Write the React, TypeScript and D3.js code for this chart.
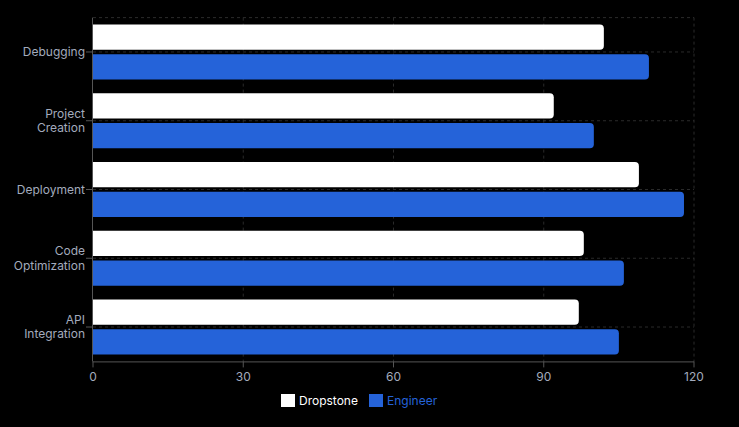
import React from "react";
import * as d3 from "d3";

const categories = ["Debugging", "Project Creation", "Deployment", "Code Optimization", "API Integration"];
const categoryLines = [["Debugging"], ["Project", "Creation"], ["Deployment"], ["Code", "Optimization"], ["API", "Integration"]];
const dropstoneValues = [102, 92, 109, 98, 97];
const engineerValues = [111, 100, 118, 106, 105];
const xTicks = [0, 30, 60, 90, 120];
const seriesNames = ["Dropstone", "Engineer"];
const seriesColors = ["#ffffff", "#2563d9"];

const W = 739, H = 427;
const M = { left: 93, right: 45, top: 17.6, bottom: 65.6 };

function barPath(x0: number, y: number, w: number, h: number, r: number) {
  const rr = Math.min(r, w / 2, h / 2);
  return `M${x0},${y}H${x0 + w - rr}Q${x0 + w},${y} ${x0 + w},${y + rr}V${y + h - rr}Q${x0 + w},${y + h} ${x0 + w - rr},${y + h}H${x0}Z`;
}

export default function App() {
  const x = d3.scaleLinear().domain([0, 120]).range([M.left, W - M.right]);
  const y = d3.scaleBand<string>().domain(categories).range([M.top, H - M.bottom]).paddingInner(0).paddingOuter(0);
  const bw = y.bandwidth();
  const pad = bw * 0.1;
  const gap = 4.5;
  const barH = (bw - 2 * pad - gap) / 2;
  const series = [dropstoneValues, engineerValues];
  const font = "Inter, 'Noto Sans', sans-serif";
  const axisColor = "#555";
  const tickText = "#a3abbd";
  return (
    <svg width={W} height={H} style={{ position: "absolute", left: 0, top: 0, background: "#000" }}>
      <rect x={0} y={0} width={W} height={H} fill="#000" />
      {/* grid */}
      <g stroke="#2a2a2a" strokeDasharray="3 3" strokeWidth={1}>
        <line x1={M.left} x2={x(120)} y1={M.top} y2={M.top} />
        {categories.map((c) => (
          <line key={c} x1={M.left} x2={x(120)} y1={y(c)! + bw / 2} y2={y(c)! + bw / 2} />
        ))}
        {xTicks.slice(1).map((t) => (
          <line key={t} x1={x(t)} x2={x(t)} y1={M.top} y2={H - M.bottom} />
        ))}
      </g>
      {/* bars */}
      {categories.map((c, i) => (
        <g key={c}>
          {series.map((vals, s) => (
            <path
              key={s}
              d={barPath(x(0), y(c)! + pad + s * (barH + gap), x(vals[i]) - x(0), barH, 4)}
              fill={seriesColors[s]}
            />
          ))}
        </g>
      ))}
      {/* y axis */}
      <line x1={M.left - 0.5} x2={M.left - 0.5} y1={M.top} y2={H - M.bottom} stroke={axisColor} />
      {categories.map((c, i) => {
        const cy = y(c)! + bw / 2;
        const lines = categoryLines[i];
        const lh = 14.5;
        const start = cy - ((lines.length - 1) * lh) / 2;
        return (
          <g key={c}>
            <line x1={M.left - 7} x2={M.left - 0.5} y1={cy} y2={cy} stroke={axisColor} />
            {lines.map((l, k) => (
              <text key={k} x={M.left - 8} y={start + k * lh} dy="0.35em" textAnchor="end" fontFamily={font} fontSize={12} fill={tickText}>{l}</text>
            ))}
          </g>
        );
      })}
      {/* x axis */}
      <line x1={M.left - 0.5} x2={x(120)} y1={H - M.bottom + 0.5} y2={H - M.bottom + 0.5} stroke={axisColor} />
      {xTicks.map((t) => (
        <g key={t}>
          <line x1={x(t)} x2={x(t)} y1={H - M.bottom} y2={H - M.bottom + 6} stroke={axisColor} />
          <text x={x(t)} y={H - M.bottom + 15} dy="0.35em" textAnchor="middle" fontFamily={font} fontSize={12} fill={tickText}>{t}</text>
        </g>
      ))}
      {/* legend */}
      <g fontFamily={font} fontSize={12}>
        <rect x={281} y={394} width={14} height={13} fill={seriesColors[0]} />
        <text x={299} y={400.5} dy="0.35em" fill="#ffffff">{seriesNames[0]}</text>
        <rect x={369} y={394} width={14} height={13} fill={seriesColors[1]} />
        <text x={387} y={400.5} dy="0.35em" fill={seriesColors[1]}>{seriesNames[1]}</text>
      </g>
    </svg>
  );
}
